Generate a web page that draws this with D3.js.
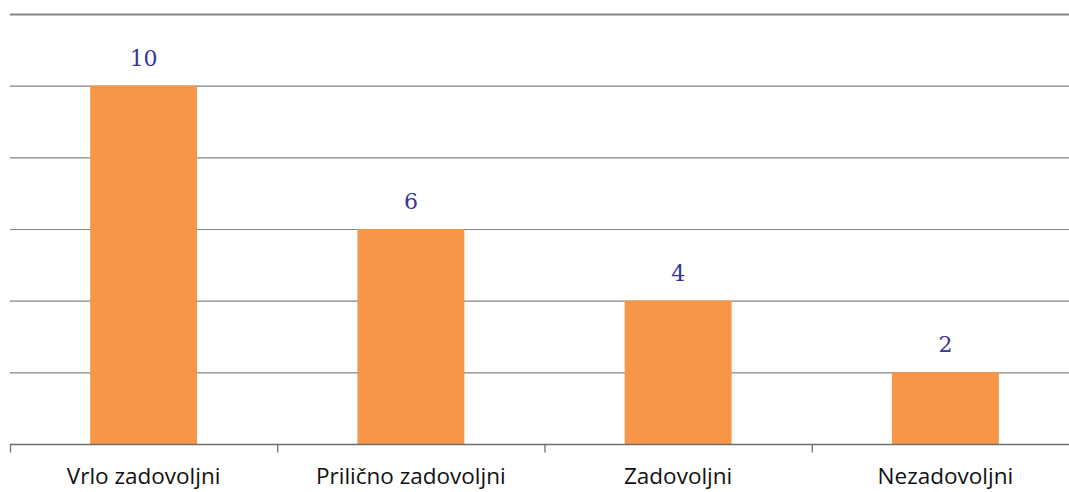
<!DOCTYPE html>
<html>
<head>
<meta charset="utf-8">
<script src="https://cdn.jsdelivr.net/npm/d3@7"></script>
<style>
  body { margin: 0; background: #fff; }
</style>
</head>
<body>
<svg id="chart"></svg>
<script>
const categories = ['Vrlo zadovoljni', 'Prilično zadovoljni', 'Zadovoljni', 'Nezadovoljni'];
const values = [10, 6, 4, 2];
const yTicks = [0, 2, 4, 6, 8, 10, 12];

const width = 1069, height = 492;
const plotLeft = 10, plotRight = 1079, plotTop = 14, plotBottom = 444;

const svg = d3.select('svg#chart')
  .attr('width', width)
  .attr('height', height);

const x = d3.scaleBand()
  .domain(categories)
  .range([plotLeft, plotRight])
  .paddingInner(0.6)
  .paddingOuter(0.3);

const y = d3.scaleLinear()
  .domain([0, 12])
  .range([plotBottom, plotTop]);

// gridlines
svg.append('g')
  .selectAll('line')
  .data(yTicks.filter(d => d > 0))
  .join('line')
  .attr('x1', plotLeft)
  .attr('x2', plotRight)
  .attr('y1', d => y(d) + 0.5)
  .attr('y2', d => y(d) + 0.5)
  .attr('stroke', '#858585')
  .attr('stroke-width', d => d === 12 ? 2 : 1.2);

// bars
svg.append('g')
  .selectAll('rect')
  .data(values)
  .join('rect')
  .attr('x', (d, i) => x(categories[i]))
  .attr('y', d => y(d))
  .attr('width', x.bandwidth())
  .attr('height', d => y(0) - y(d))
  .attr('fill', '#F79646');

// x axis
const gx = svg.append('g')
  .attr('transform', `translate(0,${plotBottom + 0.5})`);
gx.append('line')
  .attr('x1', plotLeft).attr('x2', plotRight)
  .attr('stroke', '#6e6e6e').attr('stroke-width', 1.3);

const step = x.step();
gx.selectAll('.sep')
  .data(d3.range(categories.length + 1))
  .join('line')
  .attr('class', 'sep')
  .attr('x1', i => plotLeft + i * step + 0.5)
  .attr('x2', i => plotLeft + i * step + 0.5)
  .attr('y1', 0).attr('y2', 8)
  .attr('stroke', '#6e6e6e').attr('stroke-width', 1.3);

svg.append('g')
  .selectAll('text')
  .data(categories)
  .join('text')
  .attr('x', d => x(d) + x.bandwidth() / 2)
  .attr('y', 484)
  .attr('text-anchor', 'middle')
  .style('font-family', '"Open Sans", "Noto Sans", sans-serif')
  .style('font-size', '22.5px')
  .style('fill', '#111')
  .text(d => d);

// value labels
svg.append('g')
  .selectAll('text')
  .data(values)
  .join('text')
  .attr('x', (d, i) => x(categories[i]) + x.bandwidth() / 2)
  .attr('y', d => y(d) - 20)
  .attr('text-anchor', 'middle')
  .style('font-family', '"DejaVu Serif", "Liberation Serif", serif')
  .style('font-size', '22px')
  .style('fill', '#35359a')
  .text(d => d);
</script>
</body>
</html>
